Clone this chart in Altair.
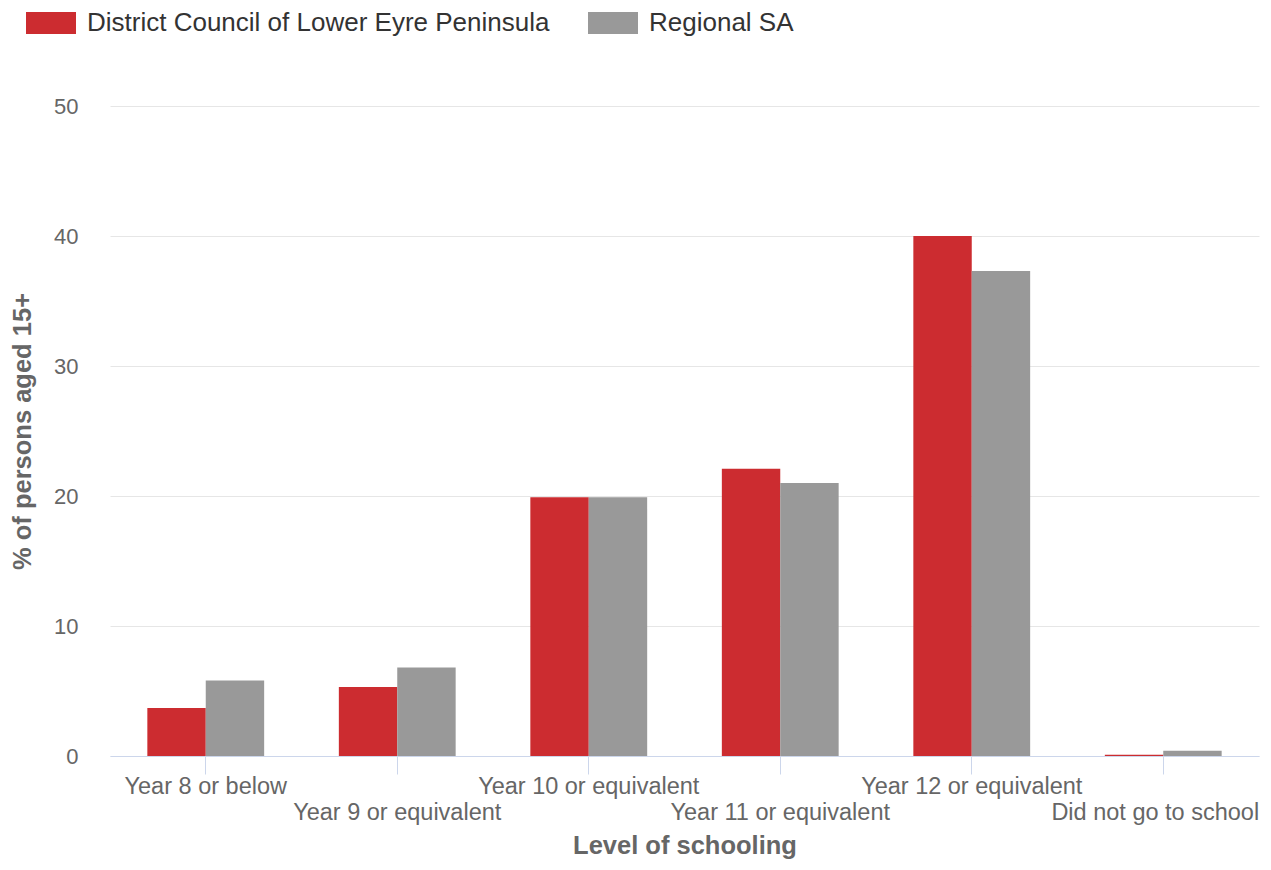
import altair as alt
import pandas as pd

categories = ["Year 8 or below", "Year 9 or equivalent", "Year 10 or equivalent",
              "Year 11 or equivalent", "Year 12 or equivalent", "Did not go to school"]
series_names = ["District Council of Lower Eyre Peninsula", "Regional SA"]
council_values = [3.7, 5.3, 19.9, 22.1, 40.0, 0.1]
regional_values = [5.8, 6.8, 19.9, 21.0, 37.3, 0.4]
colors = ["#CC2C30", "#999999"]

rows = []
for c, v in zip(categories, council_values):
    rows.append({"cat": c, "series": series_names[0], "value": v})
for c, v in zip(categories, regional_values):
    rows.append({"cat": c, "series": series_names[1], "value": v})
df = pd.DataFrame(rows)

FONT = "Liberation Sans"

chart = alt.Chart(df).mark_bar().encode(
    x=alt.X("cat:N", sort=categories,
            scale=alt.Scale(paddingInner=0.39, paddingOuter=0.195),
            axis=alt.Axis(title="Level of schooling", labelAngle=0,
                          bandPosition=0.5,
                          labelExpr="round(datum.index*5) % 2 == 1 ? ['', datum.label] : datum.label",
                          labelOffset={"condition": {"test": "datum.index == 1", "value": -8}, "value": 0},
                          labelLineHeight=26,
                          labelFontSize=23.5, labelColor="#666666", labelFont=FONT,
                          labelPadding=0, labelBaseline="top",
                          tickSize=18, tickColor="#ccd6eb", tickWidth=1,
                          domainColor="#ccd6eb", domainWidth=1,
                          titleFontSize=25.5, titleFont=FONT, titleColor="#666666",
                          titleFontWeight="bold", titlePadding=10, grid=False)),
    xOffset=alt.XOffset("series:N", sort=series_names, scale=alt.Scale(paddingInner=0, paddingOuter=0)),
    y=alt.Y("value:Q", scale=alt.Scale(domain=[0, 50], nice=False),
            axis=alt.Axis(title="% of persons aged 15+", values=[0, 10, 20, 30, 40, 50],
                          labelFontSize=22, labelColor="#666666", labelFont=FONT,
                          labelPadding=32, tickSize=0, domain=False,
                          gridColor="#e6e6e6", gridWidth=1,
                          titleFontSize=25.5, titleFont=FONT, titleColor="#666666",
                          titleFontWeight="bold", titleX=-88, titleY=325, titleAngle=270,
                          titleAlign="center", titleBaseline="middle")),
    color=alt.Color("series:N", sort=series_names,
                    scale=alt.Scale(domain=series_names, range=colors),
                    legend=alt.Legend(title=None, orient="none", legendX=-84, legendY=-108,
                                      direction="horizontal",
                                      symbolType="M-1,-0.44H1V0.44H-1Z", symbolSize=2500,
                                      symbolStrokeWidth=0, symbolOpacity=1,
                                      labelFontSize=26, labelFont=FONT, labelColor="#333333",
                                      labelLimit=700,
                                      labelOffset=11, columnPadding=38)),
).properties(
    width=1149, height=650,
    autosize=alt.AutoSizeParams(type="none"),
    padding={"left": 102, "top": 98, "right": 4, "bottom": 104},
).configure_view(stroke=None).configure_axisX(labelLimit=400)

chart.save("out.html", embed_options={"renderer": "svg", "actions": False})
